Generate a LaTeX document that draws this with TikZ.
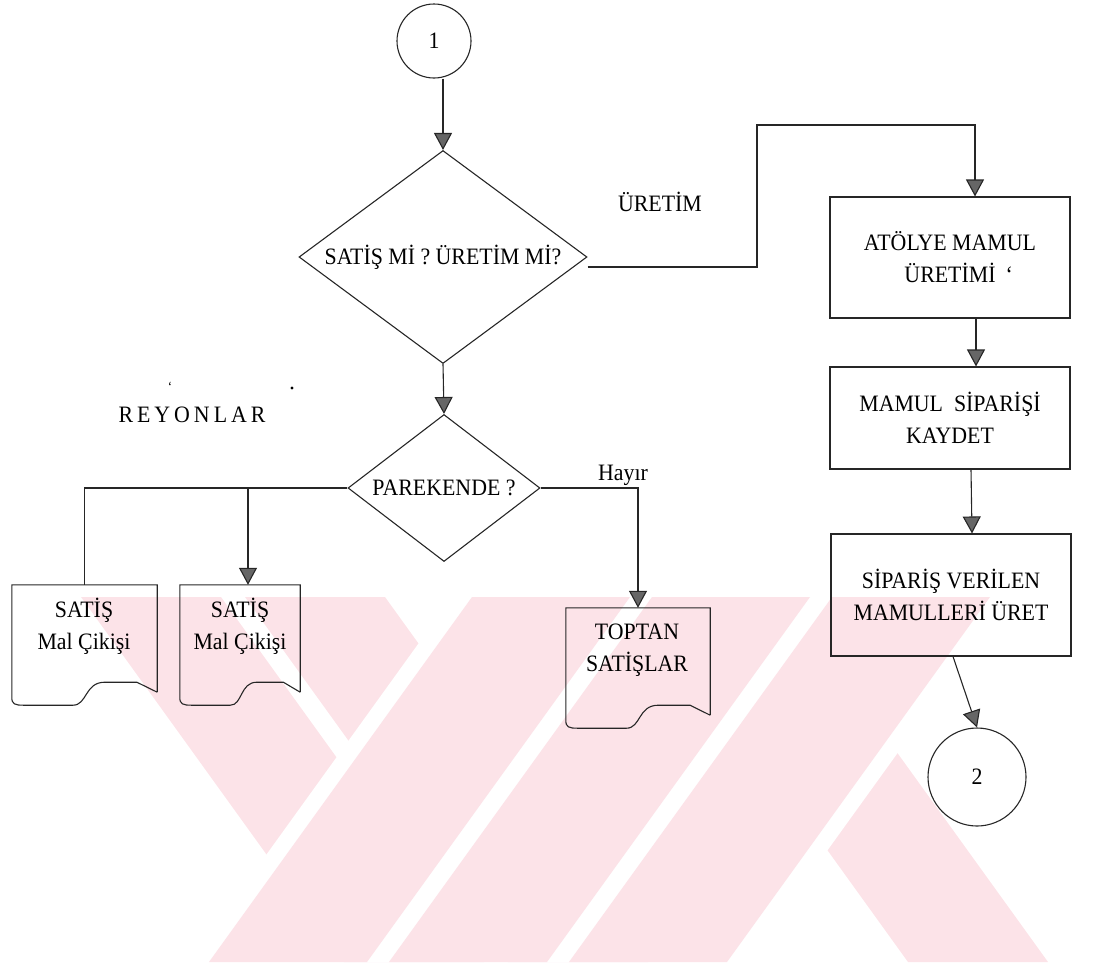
\documentclass[tikz,border=0pt]{standalone}
\usepackage{fontspec}
\setmainfont{Liberation Serif}[FakeStretch=0.93]
\usetikzlibrary{arrows.meta,shapes.geometric,calc}
\definecolor{wm}{RGB}{252,227,232}
\newcommand\docoutline[1]{%
  \draw[ln] let \p1=(#1.north west), \p2=(#1.south east), \n1={\x2-\x1} in
    (\x2,\y2) -- (\x2,\y1) -- (\x1,\y1) -- ({\x1},{\y2-5pt})
    .. controls ({\x1},{\y2-12pt}) and ({\x1+3pt},{\y2-13pt}) .. ({\x1+12pt},{\y2-13pt})
    -- ({\x1+0.42*\n1},{\y2-13pt})
    .. controls ({\x1+0.52*\n1},{\y2-13pt}) and ({\x1+0.5*\n1},{\y2+10pt}) .. ({\x1+0.64*\n1},{\y2+10pt})
    -- ({\x1+0.86*\n1},{\y2+10pt}) -- (\x2,\y2);}
\begin{document}
\begin{tikzpicture}[x=1pt,y=-1pt,
  ln/.style={line width=1.1pt, draw=black!85},
  arr/.style={ln, -{Triangle[width=18pt,length=17pt,fill=black!60]}},
  txt/.style={font=\fontsize{23.5}{32}\selectfont, align=center, inner sep=0pt},
  box/.style={ln, txt, rectangle, minimum width=240pt},
  dia/.style={ln, txt, diamond},
  conn/.style={ln, txt, circle},
  docbox/.style={rectangle, inner sep=0pt, minimum height=107pt}]
\useasboundingbox (0,0) rectangle (1097,962);

% faint watermark in the background
\begin{scope}
  \clip (0,597) rectangle (1097,962);
  \foreach \a/\b in {81/221, 245/385, 645/785}
    \fill[wm] (\a,597) -- (\b,597) -- ({\b+263},962) -- ({\a+263},962) -- cycle;
  \foreach \a/\b in {472/630, 652/810, 832/990}{
    \fill[white] ({\a-20},597) -- ({\b+20},597) -- ({\b+20-263},962) -- ({\a-20-263},962) -- cycle;
    \fill[wm] (\a,597) -- (\b,597) -- ({\b-263},962) -- ({\a-263},962) -- cycle;}
\end{scope}

\node[conn, minimum size=74pt] (c1) at (434,41) {1};
\node[dia, minimum width=288pt, minimum height=213pt, aspect=1.4] (d1) at (443,257) {SATİŞ Mİ ? ÜRETİM Mİ?};
\node[dia, minimum width=192pt, minimum height=147pt, aspect=1.3] (d2) at (444,488) {PAREKENDE ?};

\node[box, minimum height=121pt] (b1) at (950,257.5) {ATÖLYE MAMUL\\ÜRETİMİ\rlap{\hspace{10pt}‘}};
\node[box, minimum height=102pt] (b2) at (950,418) {MAMUL\ \ SİPARİŞİ\\KAYDET};
\node[box, minimum height=122pt] (b3) at (951,595) {SİPARİŞ VERİLEN\\MAMULLERİ ÜRET};
\node[conn, minimum size=98pt] (c2) at (977,777) {2};

\node[docbox, minimum width=145pt] (s1) at (84.5,638.5) {};
\node[docbox, minimum width=120pt] (s2) at (240,638.5) {};
\node[docbox, minimum width=144pt] (tp) at (638,661.5) {};
\docoutline{s1}
\docoutline{s2}
\docoutline{tp}
\node[txt] (s1t) at (84,626) {SATİŞ\\Mal Çikişi};
\node[txt] (s2t) at (240,626) {SATİŞ\\Mal Çikişi};
\node[txt] (tpt) at (637,650) {TOPTAN\\SATİŞLAR};

\node[txt] (lu) at (660,202) {ÜRETİM};
\node[txt] (lr) at (192,415) {R\hspace{4pt}E\hspace{4pt}Y\hspace{4pt}O\hspace{4pt}N\hspace{4pt}L\hspace{4pt}A\hspace{4pt}R};
\node[txt] (lh) at (623,475) {Hayır};
\node[txt, font=\fontsize{14}{14}\selectfont] (m1) at (170,387) {‘};
\node[fill=black, circle, inner sep=1.2pt] (m2) at (292,388) {};

\coordinate (k1) at (757,125);
\coordinate (br) at (248,488);
\draw[arr] (c1.south -| d1.north) -- (d1.north);
\draw[arr] (d1.south) -- (d2.north);
\draw[arr] ([yshift=-10pt]d1.east) -| (k1) -| ([xshift=25pt]b1.north);
\draw[arr] ([xshift=26pt]b1.south) -- ([xshift=26pt]b2.north);
\draw[arr] ([xshift=21pt]b2.south) -- ([xshift=21pt]b3.north);
\draw[arr] ([xshift=2pt]b3.south) -- (c2.north);
\draw[arr] (d2.east) -| (tp.north);
\draw[ln] (d2.west) -| (s1.north);
\draw[arr] (br) -- ([xshift=8pt]s2.north);
\end{tikzpicture}
\end{document}
